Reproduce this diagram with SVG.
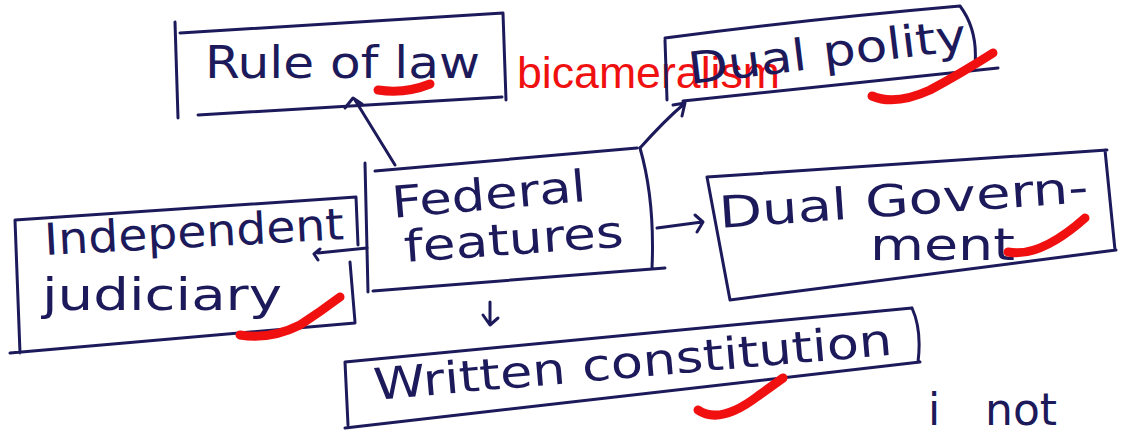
<svg xmlns="http://www.w3.org/2000/svg" width="1121" height="438" viewBox="0 0 1121 438">
<style>
.ink{fill:none;stroke:#1c1a5a;stroke-width:3;stroke-linecap:round;stroke-linejoin:round}
.hand{font-family:"DejaVu Sans","Liberation Sans",sans-serif;fill:#1c1a5a;font-size:44px}
.chk{fill:none;stroke:#f01010;stroke-width:9;stroke-linecap:round;stroke-linejoin:round}
.red{font-family:"Liberation Sans",Arial,sans-serif;fill:#f01010;font-size:45px}
</style>
<rect width="1121" height="438" fill="#ffffff"/>
<g id="connectors">
<path class="ink" d="M395,165 L355,100 M345,108 L353,98 L362,104"/>
<path class="ink" d="M640,148 Q665,120 684,104 M673,105 L685,103 L682,116"/>
<path class="ink" d="M657,228 L702,222 M695,215 L703,222 L697,232"/>
<path class="ink" d="M367,248 L318,253 M320,249 L314,254 L318,260"/>
<path class="ink" d="M490,302 L490,322 M483,315 L490,325 L498,318"/>
</g>
<g id="rule-of-law">
<path class="ink" d="M175,22 L178,118 M180,33 L503,13 M503,13 L506,100 M198,115 L502,97"/>
<text class="hand" x="205" y="78" font-size="48" textLength="275" lengthAdjust="spacingAndGlyphs">Rule of law</text>
<path class="chk" d="M378,90 Q405,94 430,84"/>
</g>
<g id="bicameralism">
<text class="red" x="517" y="88" textLength="263" lengthAdjust="spacingAndGlyphs">bicameralism</text>
</g>
<g id="dual-polity">
<path class="ink" d="M665,40 L667,100 M665,38 Q800,20 960,6 M960,6 Q978,30 975,65 M683,101 L998,68"/>
<text class="hand" x="690" y="84" font-size="48" textLength="280" lengthAdjust="spacingAndGlyphs" transform="rotate(-7 690 84)">Dual polity</text>
<path class="chk" d="M872,96 Q895,106 930,90 Q960,74 993,53"/>
</g>
<g id="federal-features">
<path class="ink" d="M365,163 L368,292 M375,171 L637,148 M640,148 Q655,200 652,268 M373,291 L665,268"/>
<text class="hand" x="393" y="218" font-size="48" textLength="195" lengthAdjust="spacingAndGlyphs" transform="rotate(-5 393 218)">Federal</text>
<text class="hand" x="405" y="262" font-size="48" textLength="220" lengthAdjust="spacingAndGlyphs" transform="rotate(-4 405 262)">features</text>
</g>
<g id="independent-judiciary">
<path class="ink" d="M15,220 L20,353 M15,220 L356,197 M356,197 L358,245 M350,262 L355,322 M10,353 L355,323"/>
<text class="hand" x="45" y="255" font-size="46" textLength="300" lengthAdjust="spacingAndGlyphs" transform="rotate(-3 45 255)">Independent</text>
<text class="hand" x="42" y="310" font-size="46" textLength="240" lengthAdjust="spacingAndGlyphs">judiciary</text>
<path class="chk" d="M240,335 Q270,340 300,325 Q320,312 340,297"/>
</g>
<g id="dual-government">
<path class="ink" d="M707,177 L730,300 M707,177 L1107,150 M1105,150 L1115,250 M730,300 L1116,250"/>
<text class="hand" x="720" y="228" font-size="48" textLength="370" lengthAdjust="spacingAndGlyphs" transform="rotate(-4 720 228)">Dual Govern-</text>
<text class="hand" x="870" y="260" font-size="48" textLength="145" lengthAdjust="spacingAndGlyphs">ment</text>
<path class="chk" d="M1008,252 Q1040,258 1085,218"/>
</g>
<g id="written-constitution">
<path class="ink" d="M345,362 L348,425 M345,362 L912,308 M912,308 Q922,330 918,362 M345,428 L920,362"/>
<text class="hand" x="375" y="400" font-size="46" textLength="520" lengthAdjust="spacingAndGlyphs" transform="rotate(-5 375 400)">Written constitution</text>
<path class="chk" d="M698,410 Q720,425 758,396 L783,378"/>
</g>
<g id="footer-text">
<text class="hand" x="928" y="425" font-size="34">i</text>
<text class="hand" x="985" y="425" font-size="36">not</text>
</g>
</svg>
